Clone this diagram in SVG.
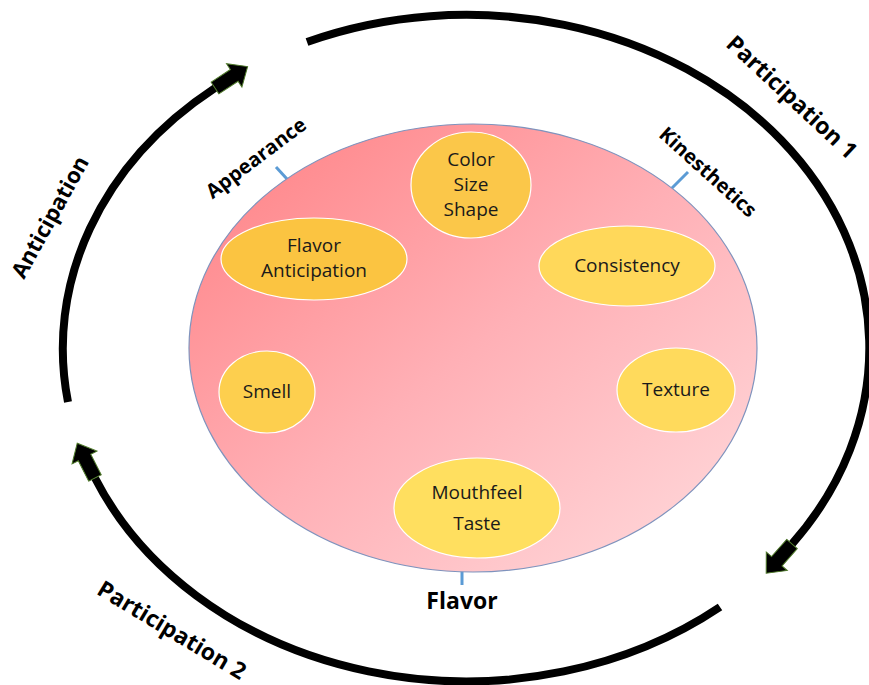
<svg xmlns="http://www.w3.org/2000/svg" width="869" height="685" viewBox="0 0 869 685">
  <style>
    .arc { fill: none; stroke: #000; stroke-width: 8; marker-end: url(#ah); }
    .tick { stroke: #5b9bd5; stroke-width: 3; fill: none; }
    .node { stroke: #ffffff; stroke-width: 1.2; }
    .nt { font-family: "Open Sans", "Liberation Sans", sans-serif; font-size: 19px; fill: #1a1a1a; text-anchor: middle; }
    .lab { font-family: "Open Sans", "Liberation Sans", sans-serif; font-weight: bold; fill: #000; text-anchor: middle; }
  </style>
  <defs>
    <linearGradient id="pink" x1="0" y1="0" x2="1" y2="1">
      <stop offset="0" stop-color="#ff7f82"/>
      <stop offset="0.5" stop-color="#ffb0b6"/>
      <stop offset="1" stop-color="#ffdcde"/>
    </linearGradient>
    <marker id="ah" markerUnits="userSpaceOnUse" markerWidth="46" markerHeight="34" viewBox="-2 -17 46 34" refX="0" refY="0" orient="auto">
      <path d="M0,-7 L23,-7 L23,-14 L39,0 L23,14 L23,7 L0,7 Z" fill="#000" stroke="#4f7a2a" stroke-width="1"/>
    </marker>
  </defs>

  <rect width="869" height="685" fill="#ffffff"/>

  <g id="connectors">
    <path id="arc-participation1" class="arc" d="M307,42 A403,333 0 0 1 792,544"/>
    <path id="arc-participation2" class="arc" d="M720,607 A403,333 0 0 1 95,478"/>
    <path id="arc-anticipation" class="arc" d="M68,402 A403,333 0 0 1 215,88"/>
    <line class="tick" x1="276" y1="167" x2="287" y2="179"/>
    <line class="tick" x1="688" y1="172" x2="670" y2="190"/>
    <line class="tick" x1="462" y1="570" x2="462" y2="585"/>
  </g>

  <g id="flavor-circle">
    <ellipse cx="473" cy="348" rx="284" ry="224" fill="url(#pink)" stroke="#7f93bd" stroke-width="1.2"/>
  </g>

  <g id="node-color-size-shape">
    <ellipse class="node" cx="471" cy="185" rx="60" ry="53" fill="#fbc749"/>
    <text class="nt" x="471" y="166">Color</text>
    <text class="nt" x="471" y="191">Size</text>
    <text class="nt" x="471" y="216">Shape</text>
  </g>
  <g id="node-flavor-anticipation">
    <ellipse class="node" cx="314" cy="259" rx="93" ry="41" fill="#fbc441"/>
    <text class="nt" x="314" y="252">Flavor</text>
    <text class="nt" x="314" y="277">Anticipation</text>
  </g>
  <g id="node-consistency">
    <ellipse class="node" cx="627" cy="266" rx="88" ry="40" fill="#ffd85a"/>
    <text class="nt" x="627" y="272">Consistency</text>
  </g>
  <g id="node-smell">
    <ellipse class="node" cx="267" cy="392" rx="48" ry="41" fill="#fdcf4e"/>
    <text class="nt" x="267" y="398">Smell</text>
  </g>
  <g id="node-texture">
    <ellipse class="node" cx="676" cy="390" rx="59" ry="42" fill="#ffda5c"/>
    <text class="nt" x="676" y="396">Texture</text>
  </g>
  <g id="node-mouthfeel-taste">
    <ellipse class="node" cx="477" cy="508" rx="83" ry="50" fill="#ffdf5f"/>
    <text class="nt" x="477" y="499">Mouthfeel</text>
    <text class="nt" x="477" y="530">Taste</text>
  </g>

  <g id="labels">
    <text class="lab" font-size="23" x="462" y="609">Flavor</text>
    <text class="lab" font-size="20" transform="translate(256,158) rotate(-37)" dy="0.35em">Appearance</text>
    <text class="lab" font-size="20" transform="translate(708,172) rotate(42)" dy="0.35em">Kinesthetics</text>
    <text class="lab" font-size="23" transform="translate(792,97) rotate(43)" dy="0.35em">Participation 1</text>
    <text class="lab" font-size="22" transform="translate(50,217) rotate(-61)" dy="0.35em">Anticipation</text>
    <text class="lab" font-size="23" transform="translate(172,630) rotate(31)" dy="0.35em">Participation 2</text>
  </g>
</svg>
